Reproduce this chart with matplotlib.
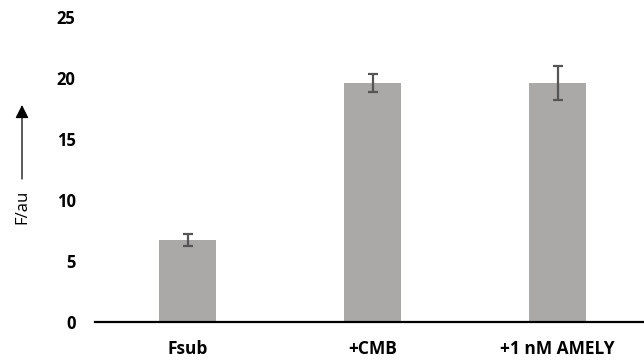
import numpy as np
from matplotlib import pyplot as plt

# values
categories = ["Fsub", "+CMB", "+1 nM AMELY"]
means = [6.7, 19.6, 19.6]
errors = [0.5, 0.75, 1.4]
y_ticks = [0, 5, 10, 15, 20, 25]

plt.rcParams['font.family'] = ['Open Sans', 'DejaVu Sans']

fig = plt.figure(figsize=(6.44, 3.61), dpi=100)
ax = fig.add_axes([95 / 644, 39 / 361, 555 / 644, 305 / 361])

x = np.arange(len(categories))
ax.bar(x, means, width=0.31, color='#aba8a8', zorder=2)
ax.errorbar(x, means, yerr=errors, fmt='none', ecolor='#555555',
            elinewidth=1.6, capsize=3.3, capthick=1.6, zorder=3)

ax.set_xlim(-0.5, 2.5)
ax.set_ylim(0, 25)
ax.set_yticks(y_ticks)
ax.set_yticklabels([str(v) for v in y_ticks], fontsize=12, fontweight='bold')
ax.set_xticks(x)
ax.set_xticklabels(categories, fontsize=12.5, fontweight='bold')
ax.tick_params(length=0, axis='both')
ax.tick_params(axis='y', pad=14)
ax.tick_params(axis='x', pad=13)

for side in ['top', 'right', 'left']:
    ax.spines[side].set_visible(False)
ax.spines['bottom'].set_linewidth(1.6)
ax.spines['bottom'].set_color('black')

# y label with an upward arrow
fig.text(22 / 644, 1 - 207 / 361, "F/au", rotation=90, ha='center', va='center',
         fontsize=12)
ax.annotate("", xy=(22 / 644, 1 - 105 / 361), xytext=(22 / 644, 1 - 179 / 361),
            xycoords='figure fraction', textcoords='figure fraction',
            arrowprops=dict(arrowstyle='-|>', color='black', lw=0.9,
                            mutation_scale=20, shrinkA=0, shrinkB=0),
            annotation_clip=False)

fig.savefig("out.png", dpi=100)
